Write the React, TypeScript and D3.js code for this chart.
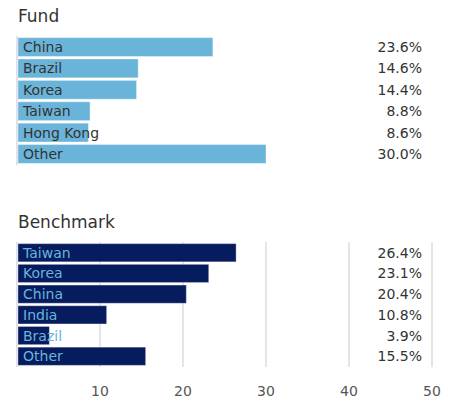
import React, { useEffect, useRef } from "react";
import * as d3 from "d3";

const fundCountries = ["China", "Brazil", "Korea", "Taiwan", "Hong Kong", "Other"];
const fundValues = [23.6, 14.6, 14.4, 8.8, 8.6, 30.0];

const benchCountries = ["Taiwan", "Korea", "China", "India", "Brazil", "Other"];
const benchValues = [26.4, 23.1, 20.4, 10.8, 3.9, 15.5];

const xTicks = [10, 20, 30, 40, 50];

const FONT = "'DejaVu Sans', sans-serif";

const App = () => {
  const svg = useRef<SVGSVGElement>(null);

  useEffect(() => {
    const root = d3.select(svg.current);
    root.selectAll("*").remove();

    const x = d3.scaleLinear().domain([0, 50]).range([17, 432]);

    const drawPanel = (
      title: string,
      titleY: number,
      cats: string[],
      vals: number[],
      top: number,
      bottom: number,
      barColor: string,
      labelColor: string,
      grid: boolean
    ) => {
      const g = root.append("g");
      const y = d3.scaleBand<string>().domain(cats).range([top, bottom]).paddingInner(0.12).paddingOuter(0.03);

      g.append("text")
        .attr("x", 18)
        .attr("y", titleY)
        .attr("font-family", FONT)
        .attr("font-size", 17)
        .attr("fill", "#333")
        .text(title);

      if (grid) {
        g.selectAll("line.grid")
          .data(xTicks)
          .join("line")
          .attr("class", "grid")
          .attr("x1", (d) => x(d))
          .attr("x2", (d) => x(d))
          .attr("y1", top - 1)
          .attr("y2", bottom + 1)
          .attr("stroke", "#dcdcdc")
          .attr("stroke-width", 1.5);
      }

      // left axis line
      g.append("line")
        .attr("x1", x(0))
        .attr("x2", x(0))
        .attr("y1", top - 1)
        .attr("y2", bottom + 1)
        .attr("stroke", "#d4d6e6")
        .attr("stroke-width", 1.5);

      const rows = cats.map((c, i) => ({ c, v: vals[i] }));

      g.selectAll("rect.bar")
        .data(rows)
        .join("rect")
        .attr("class", "bar")
        .attr("x", x(0) + 1)
        .attr("y", (d) => y(d.c)!)
        .attr("width", (d) => x(d.v) - x(0) - 1)
        .attr("height", y.bandwidth())
        .attr("fill", barColor)
        .attr("stroke", "#ffffff")
        .attr("stroke-opacity", 0.35)
        .attr("stroke-width", 1);

      g.selectAll("text.label")
        .data(rows)
        .join("text")
        .attr("class", "label")
        .attr("x", 23)
        .attr("y", (d) => y(d.c)! + y.bandwidth() / 2)
        .attr("dy", "0.36em")
        .attr("font-family", FONT)
        .attr("font-size", 14)
        .attr("fill", labelColor)
        .text((d) => d.c);

      g.selectAll("text.value")
        .data(rows)
        .join("text")
        .attr("class", "value")
        .attr("x", 422)
        .attr("y", (d) => y(d.c)! + y.bandwidth() / 2)
        .attr("dy", "0.36em")
        .attr("text-anchor", "end")
        .attr("font-family", FONT)
        .attr("font-size", 14)
        .attr("fill", "#333")
        .text((d) => d.v.toFixed(1) + "%");
    };

    drawPanel("Fund", 22, fundCountries, fundValues, 37, 164, "#6ab4da", "#333", false);
    drawPanel("Benchmark", 228, benchCountries, benchValues, 243, 366, "#061c5e", "#6ab4da", true);

    root
      .selectAll("text.tick")
      .data(xTicks)
      .join("text")
      .attr("class", "tick")
      .attr("x", (d) => x(d))
      .attr("y", 391)
      .attr("dy", "0.36em")
      .attr("text-anchor", "middle")
      .attr("font-family", FONT)
      .attr("font-size", 14)
      .attr("fill", "#555")
      .text((d) => d);
  }, []);

  return (
    <svg
      ref={svg}
      width={449}
      height={403}
      style={{ position: "absolute", left: 0, top: 0, background: "#fff" }}
    />
  );
};

export default App;
